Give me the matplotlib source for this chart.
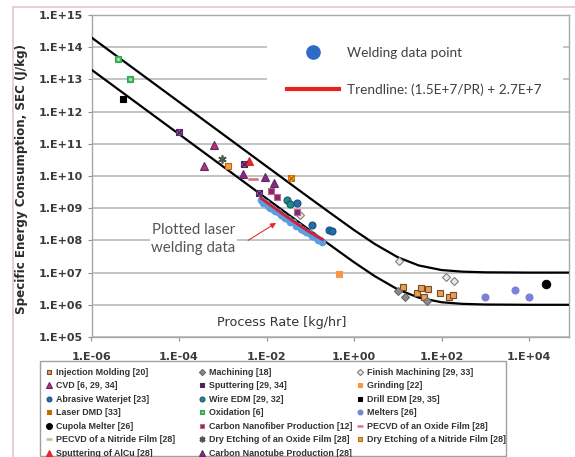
import matplotlib
matplotlib.use("Agg")
import matplotlib.pyplot as plt
from matplotlib.lines import Line2D
from matplotlib.patches import Rectangle
from matplotlib.ticker import FixedLocator, FixedFormatter, NullLocator
from matplotlib.font_manager import FontProperties

# ---------------- data ----------------
y_ticks = [1e5, 1e6, 1e7, 1e8, 1e9, 1e10, 1e11, 1e12, 1e13, 1e14, 1e15]
y_tick_labels = ["1.E+05", "1.E+06", "1.E+07", "1.E+08", "1.E+09", "1.E+10",
                 "1.E+11", "1.E+12", "1.E+13", "1.E+14", "1.E+15"]
x_ticks = [1e-6, 1e-4, 1e-2, 1e0, 1e2, 1e4]
x_tick_labels = ["1.E-06", "1.E-04", "1.E-02", "1.E+00", "1.E+02", "1.E+04"]

# envelope lines
env_x = [1e-6, 1e-5, 1e-4, 1e-3, 1e-2, 1e-1, 3e-1, 1, 3, 10, 30, 100, 300, 1e3, 1e4, 8.2e4]
env_upper = [2e14, 2e13, 2e12, 2e11, 2e10, 2.01e9, 6.8e8, 2.1e8, 7.7e7, 3e7, 1.67e7,
             1.2e7, 1.07e7, 1.02e7, 1.0e7, 1.0e7]
env_lower = [2e13, 2e12, 2e11, 2e10, 2e9, 2.01e8, 6.8e7, 2.1e7, 7.7e6, 3e6, 1.67e6,
             1.2e6, 1.07e6, 1.02e6, 1.0e6, 1.0e6]

# welding data and trendline coefficients (from the chart's legend)
weld_x = [0.0075, 0.0085, 0.0095, 0.011, 0.012, 0.014, 0.016, 0.018, 0.021, 0.024,
          0.027, 0.031, 0.035, 0.04, 0.046, 0.053, 0.06, 0.07, 0.08, 0.095, 0.11,
          0.13, 0.15, 0.17, 0.19]
weld_y = [1.8e9, 1.5e9, 1.45e9, 1.2e9, 1.05e9, 0.95e9, 8.0e8, 7.6e8, 6.2e8, 5.8e8,
          4.9e8, 4.5e8, 3.8e8, 3.6e8, 2.9e8, 2.8e8, 2.3e8, 2.15e8, 1.8e8, 1.65e8,
          1.35e8, 1.25e8, 1.05e8, 1.0e8, 0.88e8]
trend_a = 1.5e7
trend_b = 2.7e7

inj_x = [13.2, 27, 34, 49, 39, 94, 151, 180]
inj_y = [3.6e6, 2.3e6, 3.4e6, 3.2e6, 1.8e6, 2.4e6, 1.8e6, 2.0e6]
mach_x = [10.2, 14.9, 47]
mach_y = [2.7e6, 1.8e6, 1.3e6]
fin_x = [0.059, 10.9, 128, 198]
fin_y = [6.2e8, 2.3e7, 7.4e6, 5.5e6]
cvd_x = [6.3e-4, 3.7e-4]
cvd_y = [9e10, 2e10]
sput_x = [1e-4, 3.0e-3, 6.6e-3]
sput_y = [2.4e11, 2.3e10, 2.9e9]
grind_x = [0.46]
grind_y = [8.9e6]
abr_x = [5.0e-2, 0.11, 0.275, 0.32]
abr_y = [1.5e9, 3e8, 2.1e8, 1.9e8]
wire_x = [2.9e-2, 3.5e-2]
wire_y = [1.75e9, 1.35e9]
drill_x = [5.2e-6]
drill_y = [2.5e12]
ldmd_x = [3.6e-2]
ldmd_y = [8.5e9]
oxid_x = [4.06e-6, 7.6e-6]
oxid_y = [4.2e13, 1.0e13]
melt_x = [980, 4.9e3, 1.02e4]
melt_y = [1.8e6, 2.8e6, 1.7e6]
cup_x = [2.4e4]
cup_y = [4.5e6]
cnf_x = [1.26e-2, 1.73e-2, 5.0e-2]
cnf_y = [3.4e9, 2.3e9, 7.8e8]
pox_x = [5.0e-3]
pox_y = [8e9]
pnit_x = [5.0e-3]
pnit_y = [8e9]
deo_x = [9.8e-4]
deo_y = [3.4e10]
den_x = [1.3e-3]
den_y = [2.1e10]
alcu_x = [3.9e-3]
alcu_y = [3.0e10]
cnt_x = [2.95e-3, 9.3e-3, 1.5e-2]
cnt_y = [1.15e10, 9.5e9, 6e9]

# ---------------- figure ----------------
W, H = 575, 457
fig = plt.figure(figsize=(W / 100, H / 100), dpi=100)


def fx(px):
    return px / W


def fy(py):
    return 1 - py / H


AX_L, AX_R, AX_T, AX_B = 91.5, 569, 15, 337
ax = fig.add_axes([fx(AX_L), fy(AX_B), (AX_R - AX_L) / W, (AX_B - AX_T) / H])
ax.set_xscale("log")
ax.set_yscale("log")
ax.set_xlim(1e-6, 8.2e4)
ax.set_ylim(1e5, 1e15)

tick_fp = FontProperties(family="DejaVu Sans", weight="bold", size=8)
ax.yaxis.set_major_locator(FixedLocator(y_ticks))
ax.yaxis.set_major_formatter(FixedFormatter(y_tick_labels))
ax.xaxis.set_major_locator(FixedLocator(x_ticks))
ax.xaxis.set_major_formatter(FixedFormatter(x_tick_labels))
ax.yaxis.set_minor_locator(NullLocator())
ax.xaxis.set_minor_locator(NullLocator())
for lab in ax.get_xticklabels() + ax.get_yticklabels():
    lab.set_fontproperties(tick_fp)
ax.tick_params(axis="both", which="major", direction="out", length=3,
               color="#909090", labelcolor="#3a3a3a")
ax.tick_params(axis="x", pad=8)
ax.tick_params(axis="y", pad=3)

ax.set_axisbelow(True)
ax.grid(axis="y", color="#c4c4c4", lw=1.4)
ax.grid(axis="x", visible=False)
for sp in ax.spines.values():
    sp.set_color("#a8a8a8")
    sp.set_linewidth(1.0)

# white box behind the top-right legend
ax.add_patch(Rectangle((0.3675, 0.708), 0.62, 0.288, transform=ax.transAxes,
                       fc="white", ec="none", zorder=0.9))

# envelope lines
ax.plot(env_x, env_upper, color="black", lw=1.6, zorder=3)
ax.plot(env_x, env_lower, color="black", lw=1.6, zorder=3)

MS = 5


def series(x, y, marker, fc, ec, ms=MS, mew=0.8, overlay=None, z=4):
    h = ax.plot(x, y, ls="none", marker=marker, mfc=fc, mec=ec, ms=ms, mew=mew,
                zorder=z)[0]
    if overlay is not None:
        om, oc, oms = overlay
        h2 = ax.plot(x, y, ls="none", marker=om, mfc="none", mec=oc, ms=oms,
                     mew=0.8, zorder=z + 0.1)[0]
        return (h, h2)
    return h


star = (6, 2, 0)
pnit = series(pnit_x, pnit_y, "_", "#a8c898", "#a8c898", ms=7, mew=1.8)
inj = series(inj_x, inj_y, "s", "#e3a05a", "#7a4a20")
mach = series(mach_x, mach_y, "D", "#8a8a8a", "#6a6a6a", ms=4.5)
fin = series(fin_x, fin_y, "D", "#e8e8e8", "#808080", ms=4.5)
cvd = series(cvd_x, cvd_y, "^", "#c0306a", "#5a2a70", ms=6)
sput = series(sput_x, sput_y, "s", "#a35a9e", "#5b2a6b", overlay=("x", "#3a1a4a", 4))
grind = series(grind_x, grind_y, "s", "#f79646", "#f79646")
abr = series(abr_x, abr_y, "o", "#1f6fa8", "#1a4f80")
wire = series(wire_x, wire_y, "o", "#1a8f90", "#1a5560")
drill = series(drill_x, drill_y, "s", "black", "black")
ldmd = series(ldmd_x, ldmd_y, "s", "#f5b02a", "#d07a00", overlay=("x", "#b05a00", 4))
oxid = series(oxid_x, oxid_y, "s", "#9ee0a8", "#2ea84a", overlay=("o", "#2ea84a", 3.5))
melt = series(melt_x, melt_y, "o", "#7b80d8", "#7b80d8")
cup = series(cup_x, cup_y, "o", "black", "black", ms=6)
cnf = series(cnf_x, cnf_y, "s", "#7a2a80", "#d0607a")
pox = series(pox_x, pox_y, "_", "#e07090", "#e07090", ms=7, mew=1.8)
deo = series(deo_x, deo_y, star, "#4a5a4a", "#4a5a4a", ms=6, mew=1.2)
den = series(den_x, den_y, "s", "#f5a030", "#b86a20")
alcu = series(alcu_x, alcu_y, "^", "#e02828", "#e02828", ms=6)
cnt = series(cnt_x, cnt_y, "^", "#8a2a78", "#5a2a70", ms=6)

# welding data + trendline
ax.plot(weld_x, weld_y, ls="none", marker="o", ms=4.5, mfc="#5a9fe0",
        mec="#5a9fe0", zorder=5)
trend_y = [trend_a / x + trend_b for x in weld_x]
ax.plot(weld_x, trend_y, color="#d0203a", lw=2.0, zorder=6)

# annotation
ax.text(2.1e-4, 10 ** 8.04, "Plotted laser\nwelding data", ha="center", va="center",
        family="Lato", size=10.8, color="#555555", linespacing=1.3,
        bbox=dict(fc="white", ec="none", pad=1.0), zorder=2)
ax.annotate("", xy=(1.66e-2, 3.5e8), xytext=(3.8e-3, 1.0e8),
            arrowprops=dict(arrowstyle="-|>", color="#e03030", lw=0.8,
                            mutation_scale=8, shrinkA=0, shrinkB=0), zorder=6)

# x-axis title sits inside the plot
fig.text(fx(282), fy(322.5), "Process Rate [kg/hr]", ha="center", va="center",
         family="DejaVu Sans", size=9.2, color="#333333")

# y label
fig.text(fx(22), fy(179), "Specific Energy Consumption, SEC (J/kg)", rotation=90,
         ha="center", va="center", family="DejaVu Sans", weight="bold", size=8.6,
         color="#2a2a2a")

# top-right legend
weld_proxy = Line2D([], [], ls="none", marker="o", ms=9.5, mfc="#2e6bc6", mec="#2e6bc6")
trend_proxy = Line2D([], [], color="#e8231f", lw=3)
fig.legend([weld_proxy, trend_proxy],
           ["Welding data point", "Trendline: (1.5E+7/PR) + 2.7E+7"],
           loc="upper left", bbox_to_anchor=(fx(280), fy(40)), frameon=False,
           borderpad=0, handlelength=3.8, handletextpad=0.6, labelspacing=1.8,
           prop=dict(family="Lato", size=9.8), labelcolor="#404040")

# bottom legend (three columns)
col1 = [(inj, "Injection Molding [20]"), (cvd, "CVD [6, 29, 34]"),
        (abr, "Abrasive Waterjet [23]"), (ldmd, "Laser DMD [33]"),
        (cup, "Cupola Melter [26]"), (pnit, "PECVD of a Nitride Film [28]"),
        (alcu, "Sputtering of AlCu [28]")]
col2 = [(mach, "Machining [18]"), (sput, "Sputtering [29, 34]"),
        (wire, "Wire EDM [29, 32]"), (oxid, "Oxidation [6]"),
        (cnf, "Carbon Nanofiber Production [12]"),
        (deo, "Dry Etching of an Oxide Film [28]"),
        (cnt, "Carbon Nanotube Production [28]")]
col3 = [(fin, "Finish Machining [29, 33]"), (grind, "Grinding [22]"),
        (drill, "Drill EDM [29, 35]"), (melt, "Melters [26]"),
        (pox, "PECVD of an Oxide Film [28]"),
        (den, "Dry Etching of a Nitride Film [28]")]

for col, x0 in [(col1, 41), (col2, 194), (col3, 352)]:
    fig.legend([c[0] for c in col], [c[1] for c in col], loc="upper left",
               bbox_to_anchor=(fx(x0), fy(363.5)), frameon=False, borderpad=0,
               handlelength=0.9, handletextpad=0.3, labelspacing=0.5,
               markerscale=0.7,
               prop=dict(family="Liberation Sans", weight="bold", size=6.4),
               labelcolor="#333333")

fig.add_artist(Rectangle((fx(40), fy(456)), (506 - 40) / W, (456 - 361) / H,
                         transform=fig.transFigure, fc="none", ec="#a0a0a0", lw=1.0))
# outer pink frame
fig.add_artist(Rectangle((fx(13), -0.2), 1.2, fy(7) + 0.2, transform=fig.transFigure,
                         fc="none", ec="#e6c3cf", lw=1.2, clip_on=False))

fig.savefig("out.png", dpi=100)
